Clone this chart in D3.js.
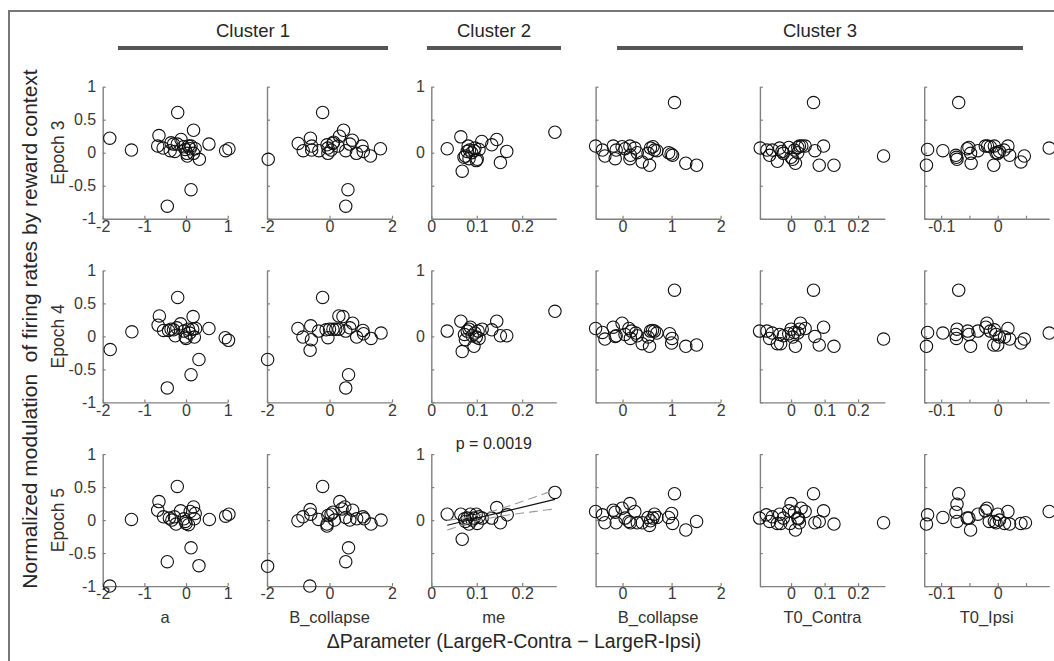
<!DOCTYPE html>
<html>
<head>
<meta charset="utf-8">
<script src="https://cdn.jsdelivr.net/npm/d3@7"></script>
<style>
  body { margin: 0; background: #fff; }
  svg { display: block; font-family: "Liberation Sans", Arial, Helvetica, sans-serif; }
</style>
</head>
<body>
<svg id="chart" width="1054" height="661"></svg>
<script>
// ---- Labels and axes -------------------------------------------------------
const epochs = ["Epoch 3", "Epoch 4", "Epoch 5"];
const params = ["a", "B_collapse", "me", "B_collapse", "T0_Contra", "T0_Ipsi"];
const clusterNames = ["Cluster 1", "Cluster 2", "Cluster 3"];
const xDomains = [[-2, 1], [-2, 2], [0, 0.275], [-0.55, 2], [-0.093, 0.28], [-0.13, 0.091]];
const xTicks = [[-2, -1, 0, 1], [-2, 0, 2], [0, 0.1, 0.2], [0, 1, 2], [0, 0.1, 0.2], [-0.1, -0.05, 0, 0.05]];
const xTickLabels = [["-2", "-1", "0", "1"], ["-2", "0", "2"], ["0", "0.1", "0.2"], ["0", "1", "2"], ["0", "0.1", "0.2"], ["-0.1", "", "0", ""]];
const yDomain = [-1, 1];
const yTicks = [-1, -0.5, 0, 0.5, 1];
const yTickLabelsFull = ["-1", "-0.5", "0", "0.5", "1"];
const yTickLabelsShort = ["", "", "0", "", "1"];
const yLabelColumns = { 0: yTickLabelsFull, 2: yTickLabelsShort };
const xLabel = "\u0394Parameter (LargeR-Contra \u2212 LargeR-Ipsi)";
const yLabel = "Normalized modulation  of firing rates by reward context";
const pText = "p = 0.0019";

// ---- Points per panel: [ΔParameter, normalized modulation] -----------------
// Epoch 3
const e3_a = [[-1.83,0.22],[-1.31,0.04],[-0.20,0.61],[-0.65,0.26],[-0.68,0.10],[-0.55,0.07],[-0.36,0.15],[-0.38,0.03],[-0.27,0.02],[-0.21,0.13],[-0.12,0.20],[-0.06,0.09],[-0.02,0.05],[0.02,-0.01],[0.06,0.10],[0.10,0.06],[0.18,0.34],[0.22,0.06],[0.18,-0.01],[0.03,-0.05],[0.32,-0.10],[0.55,0.13],[0.95,0.03],[1.03,0.06],[0.12,-0.56],[-0.45,-0.81],[-0.30,0.13],[0.12,0.10]];
const e3_bc1 = [[-1.96,-0.10],[-0.22,0.61],[-1.00,0.14],[-0.84,0.03],[-0.61,0.22],[-0.57,0.10],[-0.57,0.04],[-0.34,0.03],[-0.08,0.12],[-0.05,0.07],[-0.05,-0.01],[0.05,0.04],[0.11,0.14],[0.27,0.10],[0.32,0.25],[0.45,0.34],[0.52,0.03],[0.65,0.13],[0.73,0.19],[0.86,-0.01],[1.04,0.10],[1.08,0.02],[1.31,-0.05],[1.63,0.06],[0.59,-0.56],[0.52,-0.81],[0.13,0.16]];
const e3_me = [[0.035,0.06],[0.065,0.24],[0.081,0.10],[0.068,-0.28],[0.072,-0.07],[0.075,-0.05],[0.079,0.02],[0.084,0.04],[0.089,0.00],[0.094,0.03],[0.099,-0.12],[0.101,-0.10],[0.105,0.05],[0.111,0.17],[0.133,0.12],[0.144,0.20],[0.152,-0.15],[0.166,0.02],[0.272,0.31],[0.083,-0.09],[0.096,0.07]];
const e3_bc3 = [[-0.55,0.10],[-0.41,0.04],[-0.36,-0.05],[-0.19,0.10],[-0.15,-0.09],[-0.13,0.04],[-0.01,0.09],[0.05,0.06],[0.15,0.10],[0.15,-0.09],[0.16,-0.04],[0.25,0.07],[0.30,0.00],[0.40,-0.14],[0.52,-0.01],[0.55,-0.19],[0.57,0.07],[0.62,0.09],[0.65,0.04],[0.70,0.03],[0.94,0.00],[0.99,-0.02],[1.02,-0.04],[1.06,0.76],[1.29,-0.16],[1.51,-0.19]];
const e3_t0c = [[-0.092,0.07],[-0.072,0.04],[-0.064,-0.04],[-0.056,0.04],[-0.041,-0.13],[-0.034,0.07],[-0.027,0.02],[-0.023,-0.01],[-0.007,0.08],[0.000,-0.07],[0.005,-0.10],[0.010,0.04],[0.013,-0.16],[0.020,0.00],[0.020,0.08],[0.025,0.10],[0.032,0.10],[0.042,0.10],[0.067,0.76],[0.071,0.03],[0.097,0.10],[0.084,-0.19],[0.128,-0.19],[0.276,-0.05]];
const e3_t0i = [[-0.124,0.05],[-0.126,-0.19],[-0.097,0.03],[-0.074,-0.04],[-0.072,-0.10],[-0.073,-0.07],[-0.069,0.76],[-0.054,0.06],[-0.051,0.08],[-0.048,-0.01],[-0.047,-0.16],[-0.035,0.03],[-0.022,0.10],[-0.018,0.10],[-0.013,0.09],[-0.006,0.10],[-0.007,-0.19],[-0.003,0.00],[0.000,-0.01],[0.003,0.02],[0.011,0.04],[0.018,0.10],[0.021,-0.04],[0.041,-0.14],[0.047,-0.05],[0.091,0.07]];
// Epoch 4
const e4_a = [[-1.82,-0.20],[-1.30,0.07],[-0.20,0.59],[-0.64,0.31],[-0.67,0.17],[-0.54,0.09],[-0.42,0.09],[-0.36,0.11],[-0.30,0.10],[-0.26,0.01],[-0.22,0.13],[-0.13,0.19],[-0.05,0.08],[-0.02,-0.01],[0.00,-0.03],[0.06,0.11],[0.09,0.05],[0.16,0.11],[0.17,0.30],[0.20,-0.01],[0.23,0.12],[0.55,0.12],[0.94,-0.02],[1.02,-0.06],[0.31,-0.35],[0.12,-0.58],[-0.45,-0.78]];
const e4_bc1 = [[-1.98,-0.35],[-0.22,0.59],[-1.01,0.12],[-0.85,-0.01],[-0.62,-0.21],[-0.60,0.16],[-0.58,-0.05],[-0.35,0.08],[-0.11,0.10],[-0.05,-0.02],[0.00,0.11],[0.11,0.11],[0.20,0.11],[0.30,0.11],[0.30,0.31],[0.43,0.30],[0.52,0.08],[0.65,0.13],[0.74,0.20],[0.87,-0.01],[1.07,0.09],[1.09,0.04],[1.33,-0.03],[1.65,0.05],[0.61,-0.58],[0.52,-0.78]];
const e4_me = [[0.035,0.08],[0.065,0.23],[0.068,-0.23],[0.073,0.03],[0.075,-0.05],[0.079,0.08],[0.083,0.11],[0.086,0.14],[0.090,0.01],[0.094,-0.15],[0.096,0.05],[0.099,-0.01],[0.103,0.08],[0.105,-0.03],[0.112,0.11],[0.133,0.10],[0.144,0.23],[0.152,0.01],[0.166,0.01],[0.272,0.38]];
const e4_bc3 = [[-0.55,0.12],[-0.41,0.06],[-0.36,-0.04],[-0.19,0.14],[-0.15,0.00],[-0.13,0.01],[-0.01,0.20],[0.05,0.03],[0.13,0.12],[0.16,-0.03],[0.18,0.08],[0.27,0.05],[0.30,0.01],[0.40,-0.11],[0.52,-0.01],[0.55,-0.15],[0.57,0.08],[0.61,0.09],[0.65,0.08],[0.70,0.05],[0.96,0.04],[1.01,-0.03],[1.00,-0.10],[1.06,0.70],[1.29,-0.15],[1.51,-0.13]];
const e4_t0c = [[-0.094,0.08],[-0.072,0.08],[-0.064,-0.03],[-0.056,0.05],[-0.041,-0.11],[-0.034,0.03],[-0.031,-0.11],[-0.023,0.01],[-0.007,0.04],[0.000,0.11],[0.005,-0.01],[0.010,0.06],[0.013,-0.15],[0.020,0.05],[0.025,0.11],[0.028,0.20],[0.042,0.12],[0.067,0.70],[0.071,0.00],[0.097,0.14],[0.084,-0.13],[0.128,-0.15],[0.276,-0.04]];
const e4_t0i = [[-0.124,0.06],[-0.126,-0.15],[-0.097,0.05],[-0.074,0.03],[-0.072,0.11],[-0.073,-0.03],[-0.069,0.70],[-0.053,0.08],[-0.051,0.03],[-0.048,-0.15],[-0.035,0.08],[-0.021,0.14],[-0.019,0.20],[-0.013,0.08],[-0.006,0.10],[-0.007,-0.13],[-0.003,0.03],[0.000,-0.13],[0.003,-0.01],[0.012,-0.01],[0.018,0.12],[0.021,-0.04],[0.041,-0.10],[0.047,-0.04],[0.091,0.05]];
// Epoch 5
const e5_a = [[-1.83,-1.00],[-1.31,0.01],[-0.21,0.51],[-0.65,0.28],[-0.68,0.15],[-0.54,0.05],[-0.40,0.03],[-0.34,0.00],[-0.28,0.05],[-0.24,-0.06],[-0.13,0.14],[-0.05,0.02],[-0.02,-0.02],[0.00,-0.05],[0.06,-0.07],[0.10,0.13],[0.18,0.20],[0.22,0.10],[0.20,0.02],[0.56,0.01],[0.95,0.06],[1.03,0.09],[0.12,-0.42],[0.31,-0.69],[-0.45,-0.63]];
const e5_bc1 = [[-1.98,-0.70],[-0.22,0.51],[-0.63,-1.00],[-1.01,-0.01],[-0.85,0.05],[-0.62,0.16],[-0.60,0.09],[-0.35,0.01],[-0.08,-0.06],[-0.08,-0.09],[-0.05,0.07],[0.05,0.09],[0.11,0.12],[0.16,0.00],[0.33,0.28],[0.40,0.17],[0.49,0.20],[0.52,0.04],[0.65,0.00],[0.74,0.15],[0.87,0.02],[1.07,0.05],[1.11,0.02],[1.33,-0.06],[1.65,0.00],[0.61,-0.42],[0.52,-0.63]];
const e5_me = [[0.035,0.09],[0.065,0.09],[0.068,-0.29],[0.073,0.02],[0.075,-0.02],[0.079,0.03],[0.083,-0.06],[0.086,0.09],[0.090,0.00],[0.094,0.03],[0.099,0.09],[0.101,-0.05],[0.105,0.05],[0.112,0.03],[0.133,0.03],[0.144,0.19],[0.152,-0.04],[0.167,0.08],[0.272,0.42]];
const e5_bc3 = [[-0.55,0.13],[-0.41,0.08],[-0.36,-0.04],[-0.19,0.15],[-0.15,0.12],[-0.13,-0.04],[-0.01,0.18],[0.05,0.03],[0.13,-0.02],[0.15,0.25],[0.16,-0.04],[0.25,0.13],[0.30,-0.04],[0.40,-0.04],[0.52,0.04],[0.55,-0.08],[0.57,-0.01],[0.62,0.03],[0.65,0.09],[0.70,0.04],[0.94,0.04],[1.00,0.10],[1.02,-0.05],[1.06,0.40],[1.29,-0.15],[1.51,-0.02]];
const e5_t0c = [[-0.094,0.03],[-0.074,0.08],[-0.064,-0.02],[-0.056,0.05],[-0.041,-0.05],[-0.034,0.09],[-0.031,-0.05],[-0.023,0.03],[-0.007,0.14],[0.000,0.25],[-0.003,-0.05],[0.010,0.12],[0.013,-0.15],[0.020,0.03],[0.025,-0.04],[0.030,0.18],[0.042,0.13],[0.067,0.40],[0.071,-0.04],[0.084,-0.02],[0.097,0.14],[0.128,-0.06],[0.276,-0.04],[0.023,0.02]];
const e5_t0i = [[-0.124,0.08],[-0.126,-0.06],[-0.097,0.04],[-0.074,0.12],[-0.072,-0.02],[-0.072,0.24],[-0.069,0.40],[-0.054,0.03],[-0.051,0.03],[-0.048,-0.15],[-0.035,0.09],[-0.022,0.14],[-0.019,0.18],[-0.015,-0.02],[-0.006,-0.02],[-0.003,-0.04],[0.000,0.09],[0.003,0.00],[0.012,-0.05],[0.018,0.13],[0.021,-0.06],[0.041,-0.05],[0.049,-0.04],[0.091,0.13]];

const panelData = [
  [e3_a, e3_bc1, e3_me, e3_bc3, e3_t0c, e3_t0i],
  [e4_a, e4_bc1, e4_me, e4_bc3, e4_t0c, e4_t0i],
  [e5_a, e5_bc1, e5_me, e5_bc3, e5_t0c, e5_t0i]
];
const fitRow = 2, fitCol = 2;   // panel with the linear fit
const ciT = 1.74;               // t multiplier for the confidence band

// ---- Layout ---------------------------------------------------------------
const colLeft0 = 102.7, colStep = 164.3, panelW = 125;
const rowTop0 = 86.7, rowStep = 183.7, panelH = 132;
const clusterBars = [[118, 388], [427, 561], [617, 1023]];
const axisColor = "#808080", tickTextColor = "#3a3a3a", textColor = "#262626";

const svg = d3.select("#chart");

// Figure frame
svg.append("rect")
  .attr("x", 9).attr("y", 11).attr("width", 1200).attr("height", 800)
  .attr("fill", "none").attr("stroke", "#777").attr("stroke-width", 2);

// Cluster headers
clusterNames.forEach((name, i) => {
  const [x0, x1] = clusterBars[i];
  svg.append("line")
    .attr("x1", x0).attr("x2", x1).attr("y1", 48).attr("y2", 48)
    .attr("stroke", "#555").attr("stroke-width", 4);
  svg.append("text")
    .attr("x", (x0 + x1) / 2).attr("y", 37)
    .attr("text-anchor", "middle")
    .attr("font-size", 18.5).attr("fill", textColor)
    .text(name);
});

const y0 = d3.scaleLinear().domain(yDomain).range([panelH, 0]);

epochs.forEach((ep, r) => {
  const top = rowTop0 + r * rowStep;
  params.forEach((pname, c) => {
    const left = colLeft0 + c * colStep;
    const g = svg.append("g").attr("transform", `translate(${left},${top})`);
    const x = d3.scaleLinear().domain(xDomains[c]).range([0, panelW]);

    // x axis
    const xa = g.append("g").attr("transform", `translate(0,${panelH})`)
      .call(d3.axisBottom(x).tickValues(xTicks[c])
        .tickFormat((d, i) => xTickLabels[c][i])
        .tickSizeInner(-3).tickSizeOuter(0).tickPadding(2));
    // y axis
    const yl = yLabelColumns[c];
    const ya = g.append("g")
      .call(d3.axisLeft(y0).tickValues(yTicks)
        .tickFormat((d, i) => yl ? yl[i] : "")
        .tickSizeInner(-3).tickSizeOuter(0).tickPadding(6.5));
    [xa, ya].forEach(a => {
      a.attr("font-family", null).attr("font-size", null);
      a.select(".domain").attr("stroke", axisColor).attr("stroke-width", 1.4);
      a.selectAll(".tick line").attr("stroke", axisColor).attr("stroke-width", 1.2);
      a.selectAll(".tick text").attr("fill", tickTextColor).style("font-size", "16px");
    });

    // markers
    g.append("g").selectAll("circle")
      .data(panelData[r][c])
      .join("circle")
      .attr("cx", d => x(d[0])).attr("cy", d => y0(d[1]))
      .attr("r", 6.2)
      .attr("fill", "none").attr("stroke", "#111").attr("stroke-width", 1.1);

    // linear fit with confidence band
    if (r === fitRow && c === fitCol) {
      const pts = panelData[r][c];
      const n = pts.length;
      const mx = d3.mean(pts, d => d[0]), my = d3.mean(pts, d => d[1]);
      const sxx = d3.sum(pts, d => (d[0] - mx) ** 2);
      const sxy = d3.sum(pts, d => (d[0] - mx) * (d[1] - my));
      const slope = sxy / sxx, icpt = my - slope * mx;
      const sse = d3.sum(pts, d => (d[1] - (icpt + slope * d[0])) ** 2);
      const s = Math.sqrt(sse / (n - 2));
      const [xmin, xmax] = d3.extent(pts, d => d[0]);
      const xs = d3.range(0, 61).map(i => xmin + (xmax - xmin) * i / 60);
      const band = sign => xs.map(xv => {
        const yh = icpt + slope * xv;
        const se = s * Math.sqrt(1 / n + (xv - mx) ** 2 / sxx);
        return [xv, yh + sign * ciT * se];
      });
      const line = d3.line().x(d => x(d[0])).y(d => y0(d[1]));
      [band(1), band(-1)].forEach(b => {
        g.append("path").attr("d", line(b))
          .attr("fill", "none").attr("stroke", "#9a9a9a")
          .attr("stroke-width", 1.1).attr("stroke-dasharray", "9,5");
      });
      g.append("path").attr("d", line([[xmin, icpt + slope * xmin], [xmax, icpt + slope * xmax]]))
        .attr("fill", "none").attr("stroke", "#111").attr("stroke-width", 1.2);
      g.append("text")
        .attr("x", panelW / 2).attr("y", -5)
        .attr("text-anchor", "middle").attr("font-size", 16).attr("fill", textColor)
        .text(pText);
    }

    // parameter names under the bottom row
    if (r === epochs.length - 1) {
      g.append("text")
        .attr("x", panelW / 2).attr("y", panelH + 37)
        .attr("text-anchor", "middle").attr("font-size", 16.5).attr("fill", "#333")
        .text(pname);
    }
  });

  // epoch labels
  svg.append("text")
    .attr("transform", `translate(64,${top + panelH / 2}) rotate(-90)`)
    .attr("text-anchor", "middle").attr("font-size", 17.5).attr("fill", "#333")
    .text(ep);
});

// shared axis titles
svg.append("text")
  .attr("x", 514).attr("y", 648)
  .attr("text-anchor", "middle").attr("font-size", 19.5).attr("fill", textColor)
  .text(xLabel);
svg.append("text")
  .attr("transform", "translate(37,329) rotate(-90)")
  .attr("text-anchor", "middle").attr("font-size", 21).attr("fill", textColor)
  .style("white-space", "pre")
  .text(yLabel);
</script>
</body>
</html>
